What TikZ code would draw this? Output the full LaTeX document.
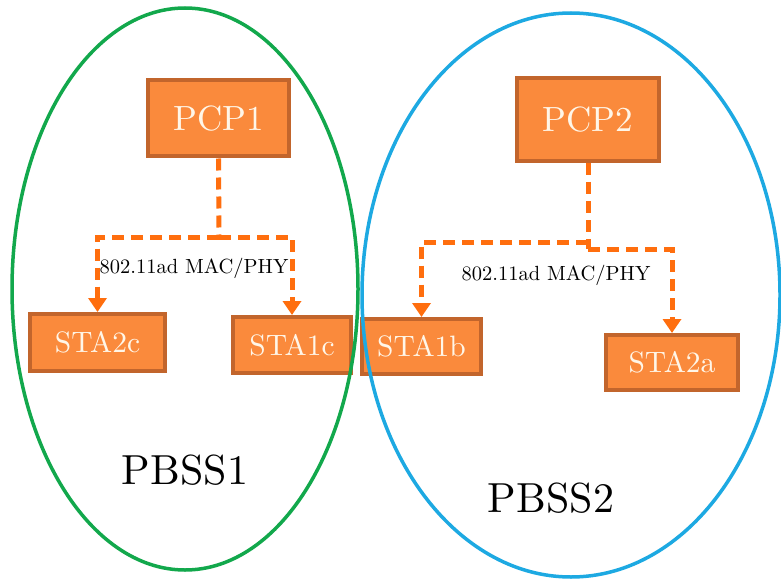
\documentclass[tikz,border=0pt]{standalone}
\usepackage{fontspec}
\setmainfont{lmroman10-regular.otf}
\usetikzlibrary{arrows.meta}
\definecolor{boxfill}{HTML}{FA8A3C}
\definecolor{boxedge}{HTML}{C2652C}
\definecolor{boxtext}{HTML}{FFF6E8}
\definecolor{linkorange}{HTML}{FF6E0E}
\definecolor{pbssgreen}{HTML}{12A84C}
\definecolor{pbssblue}{HTML}{1DA9E2}
\tikzset{
  devbox/.style={draw=boxedge, fill=boxfill, line width=4pt, text=boxtext,
    inner sep=0pt, rectangle},
  pcpbox/.style={devbox, font=\fontsize{35}{41}\selectfont},
  stabox/.style={devbox, font=\fontsize{29.5}{35}\selectfont},
  link/.style={draw=linkorange, line width=5pt, dash pattern=on 12pt off 7pt},
  linkarrow/.style={link, -{Triangle[length=14pt,width=18pt]}},
  phylabel/.style={font=\fontsize{20.5}{24}\selectfont, text=black, inner sep=0pt},
  bsslabel/.style={font=\fontsize{42}{48}\selectfont, text=black, inner sep=0pt},
  bssring/.style={line width=3.5pt}
}
\begin{document}
\begin{tikzpicture}[x=1pt, y=-1pt]
  \useasboundingbox[fill=white] (0,0) rectangle (781,580);

  % coordinators and stations
  \node[pcpbox, minimum width=141pt, minimum height=76pt] (pcp1) at (218.5,118.5) {PCP1};
  \node[pcpbox, minimum width=142pt, minimum height=83pt] (pcp2) at (588,119.5) {PCP2};
  \node[stabox, minimum width=135pt, minimum height=57pt] (sta2c) at (97.5,342.5) {STA2c};
  \node[stabox, minimum width=118pt, minimum height=56pt] (sta1c) at (292,345) {STA1c};
  \node[stabox, minimum width=119pt, minimum height=55pt] (sta1b) at (421.5,346.5) {STA1b};
  \node[stabox, minimum width=132pt, minimum height=55pt] (sta2a) at (672,362.5) {STA2a};

  % links in PBSS1
  \coordinate (j1) at (219,237);
  \draw[link] (pcp1.south) -- (j1);
  \draw[linkarrow] (j1) -| (sta2c.north);
  \draw[linkarrow] (j1) -| (sta1c.north);
  \node[phylabel] (phy1) at (194,268) {802.11ad MAC/PHY};

  % links in PBSS2
  \coordinate (j2) at (588,242);
  \coordinate (j3) at (588,249);
  \draw[link] (pcp2.south) -- (j3);
  \draw[linkarrow] (j2) -| (sta1b.north);
  \draw[linkarrow] (j3) -| (sta2a.north);
  \node[phylabel] (phy2) at (556,275) {802.11ad MAC/PHY};

  % basic service set boundaries
  \draw[bssring, pbssgreen] (185,289) ellipse [x radius=173pt, y radius=281pt];
  \draw[bssring, pbssblue] (571,295) ellipse [x radius=209pt, y radius=282pt];

  \node[bsslabel] (pbss1) at (185,470) {PBSS1};
  \node[bsslabel] (pbss2) at (551,498) {PBSS2};
\end{tikzpicture}
\end{document}
